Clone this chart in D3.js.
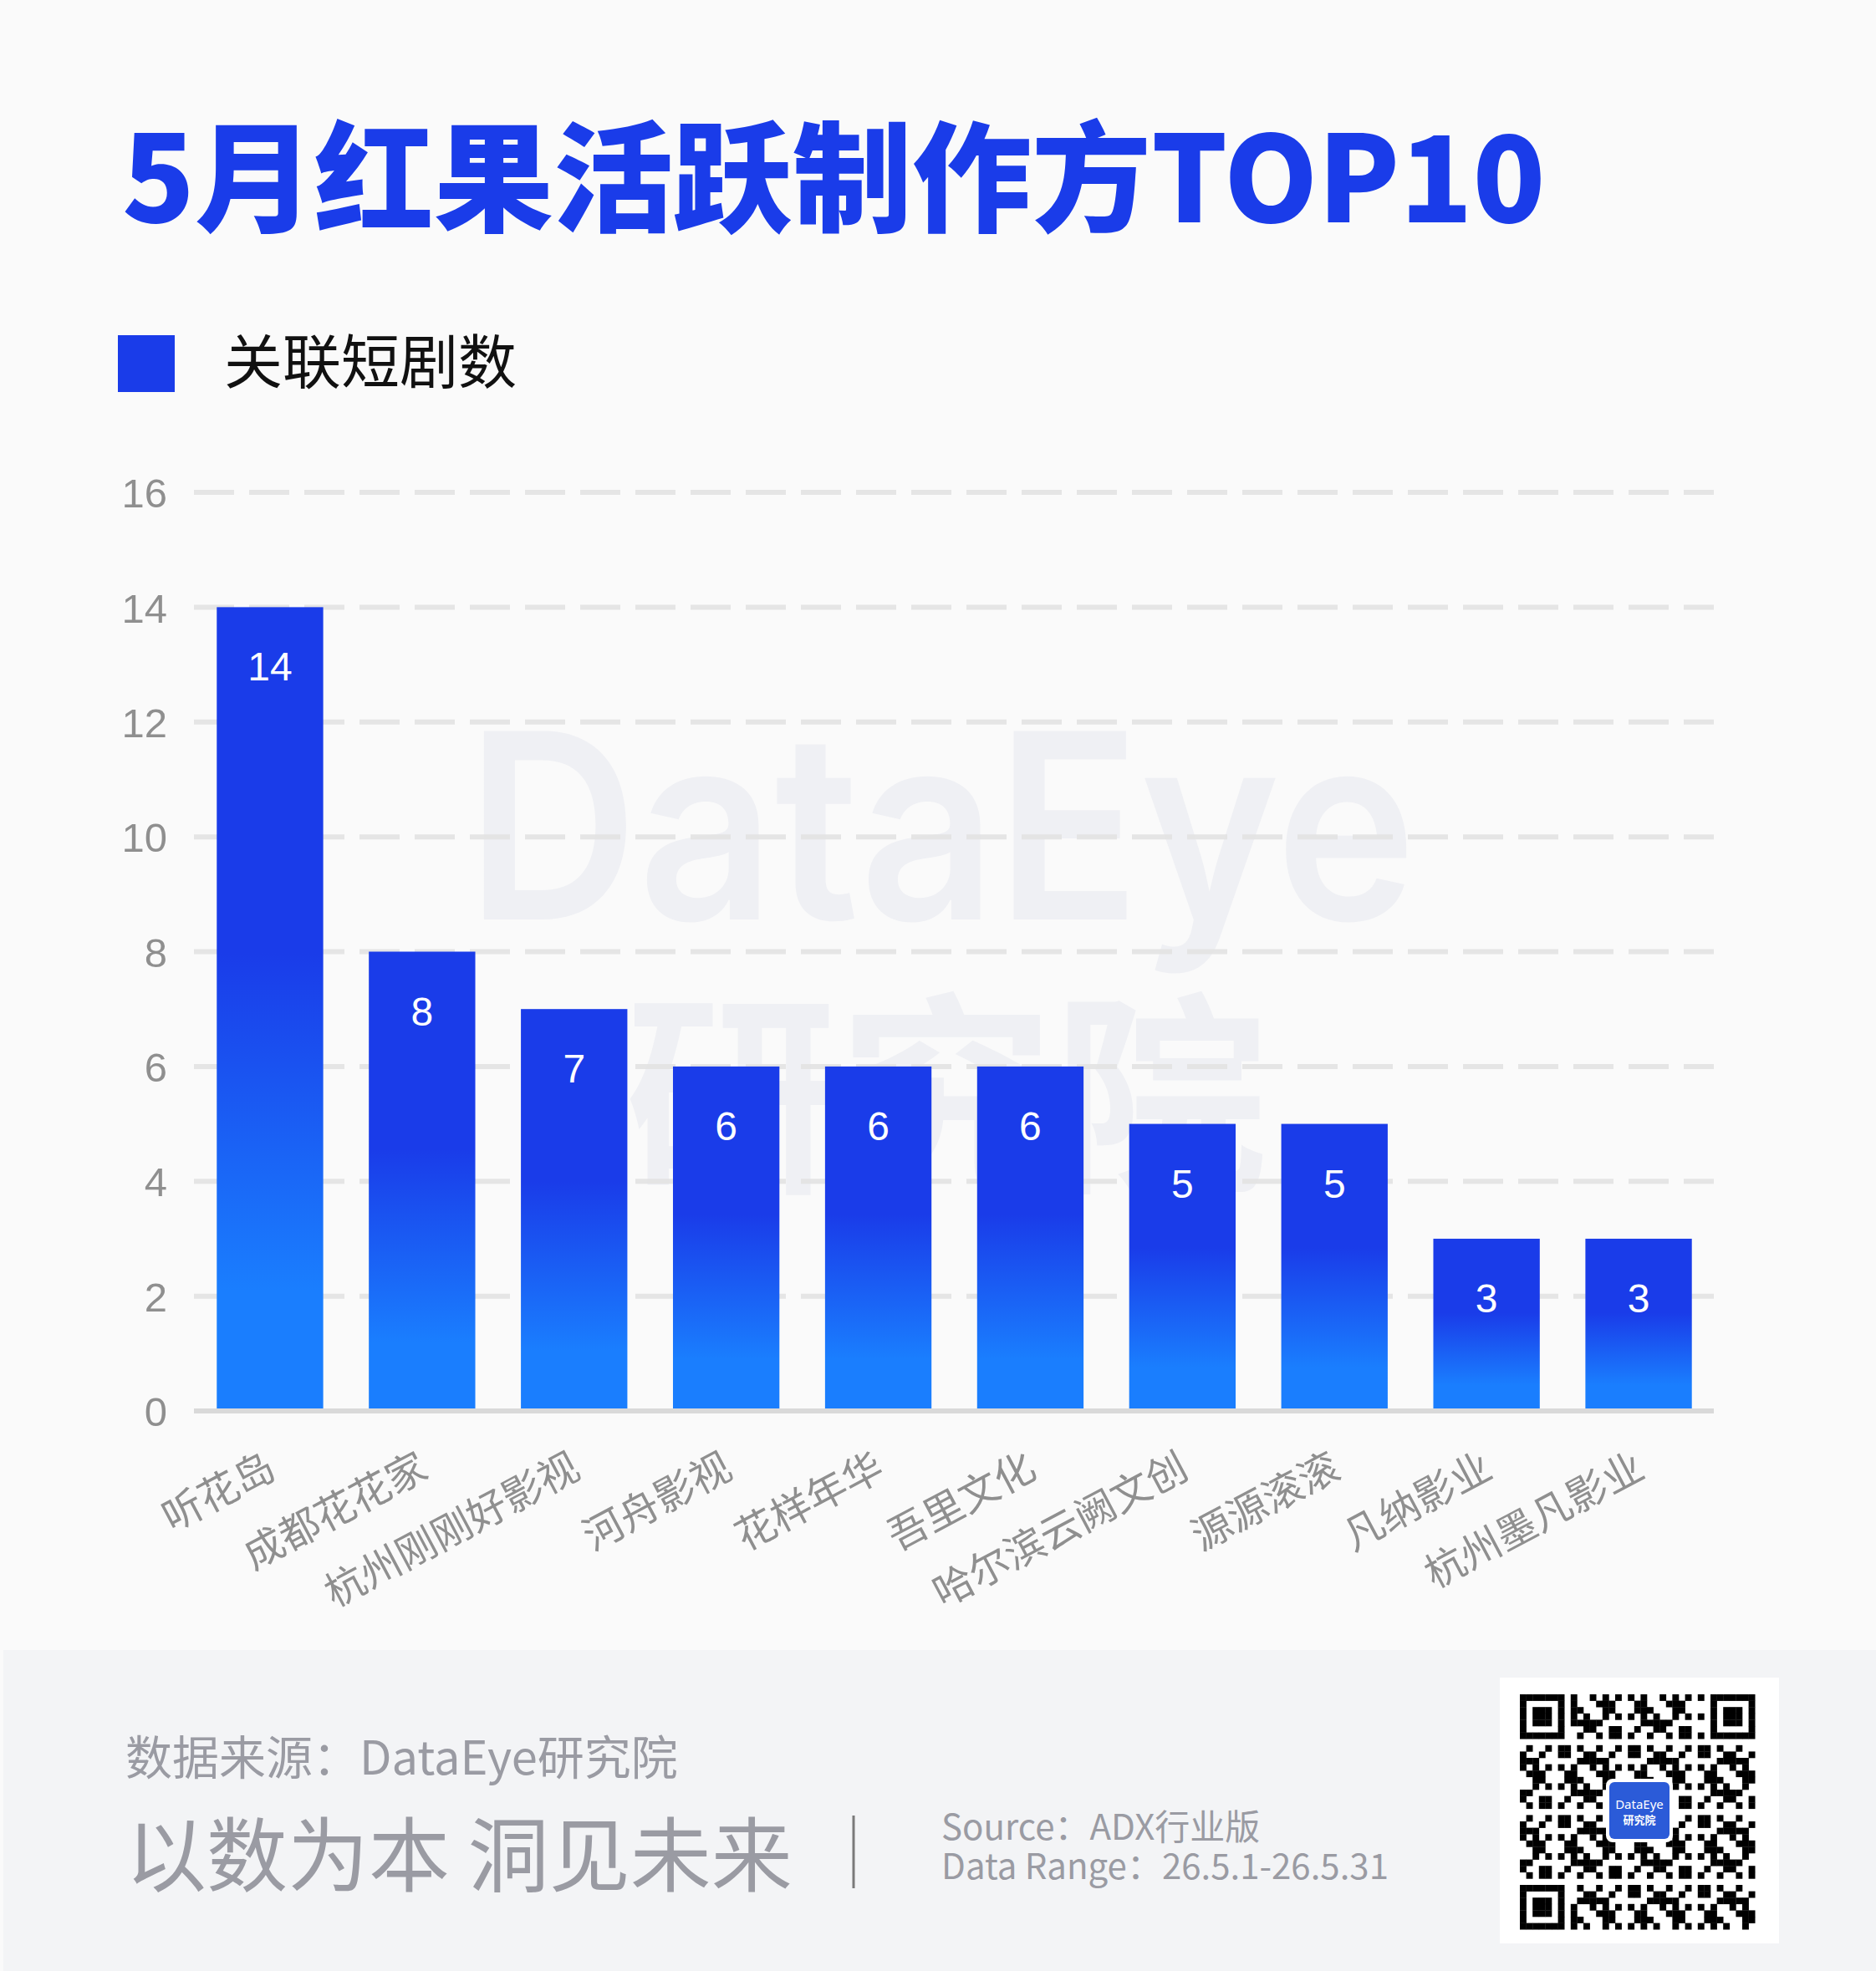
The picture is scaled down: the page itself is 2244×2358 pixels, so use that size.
<!DOCTYPE html>
<html>
<head>
<meta charset="utf-8">
<script src="https://cdn.jsdelivr.net/npm/d3@7"></script>
<style>
  body { margin: 0; background: #fafafa; }
  svg { display: block; }
  text { font-family: "Noto Sans CJK SC", "Noto Sans", sans-serif; }
</style>
</head>
<body>
<div id="app"></div>
<script>
const WIDTH = 2244
const HEIGHT = 2358

// data
const producers = ['听花岛', '成都花花家', '杭州刚刚好影视', '河舟影视', '花样年华',
  '吾里文化', '哈尔滨云阙文创', '源源滚滚', '凡纳影业', '杭州墨凡影业']
const dramaCounts = [14, 8, 7, 6, 6, 6, 5, 5, 3, 3]
const yTicks = [0, 2, 4, 6, 8, 10, 12, 14, 16]

const TITLE = '5月红果活跃制作方TOP10'
const SERIES = '关联短剧数'

const BLUE = '#1a3ce9'
const LIGHT_BLUE = '#1a7efe'
const GRAY = '#8f8f8f'

const svg = d3.select('#app').append('svg')
  .attr('width', WIDTH)
  .attr('height', HEIGHT)

const defs = svg.append('defs')
const grad = defs.append('linearGradient')
  .attr('id', 'barFill')
  .attr('x1', 0).attr('y1', 0).attr('x2', 0).attr('y2', 1)
grad.append('stop').attr('offset', '0%').attr('stop-color', BLUE)
grad.append('stop').attr('offset', '43%').attr('stop-color', BLUE)
grad.append('stop').attr('offset', '85%').attr('stop-color', LIGHT_BLUE)
grad.append('stop').attr('offset', '100%').attr('stop-color', LIGHT_BLUE)

svg.append('rect')
  .attr('width', WIDTH).attr('height', HEIGHT)
  .attr('fill', '#fafafa')

// title + legend
svg.append('text')
  .attr('x', 146).attr('y', 266)
  .attr('fill', BLUE)
  .style('font-size', '143px')
  .style('font-weight', 900)
  .text(TITLE)

svg.append('rect')
  .attr('x', 141).attr('y', 401)
  .attr('width', 68).attr('height', 68)
  .attr('fill', BLUE)

svg.append('text')
  .attr('x', 268).attr('y', 459)
  .attr('fill', '#111')
  .style('font-size', '70px')
  .text(SERIES)

// watermark
const wm = svg.append('g').attr('fill', '#eff0f4')
wm.append('text')
  .attr('x', 558).attr('y', 1100)
  .attr('textLength', 1136)
  .attr('lengthAdjust', 'spacingAndGlyphs')
  .style('font-family', 'Inter, "Noto Sans", sans-serif')
  .style('font-size', '310px')
  .style('font-weight', 600)
  .text('DataEye')
wm.append('text')
  .attr('x', 1132).attr('y', 1406)
  .attr('text-anchor', 'middle')
  .style('font-size', '256px')
  .style('font-weight', 700)
  .text('研究院')

// scales
const x = d3.scaleBand()
  .domain(producers)
  .range([232, 2051])
  .paddingInner(0.3)
  .paddingOuter(0.15)

const y = d3.scaleLinear()
  .domain([0, 16])
  .range([1688, 589])

// grid lines
svg.append('g')
  .selectAll('line')
  .data(yTicks.filter(d => d > 0))
  .join('line')
  .attr('x1', 232).attr('x2', 2050)
  .attr('y1', d => y(d)).attr('y2', d => y(d))
  .attr('stroke', '#e2e2e2')
  .attr('stroke-opacity', 0.9)
  .attr('stroke-width', 6)
  .attr('stroke-dasharray', '48 18')

// y axis labels
const yAxis = svg.append('g')
  .attr('transform', 'translate(200,0)')
  .call(d3.axisLeft(y).tickValues(yTicks).tickSize(0).tickPadding(0))
yAxis.select('.domain').remove()
yAxis.selectAll('text')
  .attr('fill', GRAY)
  .attr('dy', '0.36em')
  .style('font-family', '"Liberation Sans", Arial, sans-serif')
  .style('font-size', '49px')

// bars
const bars = svg.append('g')
  .selectAll('g')
  .data(producers.map((p, i) => ({ name: p, value: dramaCounts[i] })))
  .join('g')

bars.append('rect')
  .attr('x', d => x(d.name))
  .attr('y', d => y(d.value))
  .attr('width', x.bandwidth())
  .attr('height', d => y(0) - y(d.value))
  .attr('fill', 'url(#barFill)')

bars.append('text')
  .attr('x', d => x(d.name) + x.bandwidth() / 2)
  .attr('y', d => y(d.value) + 88)
  .attr('text-anchor', 'middle')
  .attr('fill', '#fff')
  .style('font-family', '"Liberation Sans", Arial, sans-serif')
  .style('font-size', '48px')
  .text(d => d.value)

// baseline
svg.append('line')
  .attr('x1', 232).attr('x2', 2050)
  .attr('y1', y(0)).attr('y2', y(0))
  .attr('stroke', '#d9d9d9')
  .attr('stroke-width', 6)

// x labels, rotated
svg.append('g')
  .selectAll('text')
  .data(producers)
  .join('text')
  .attr('transform', d => `translate(${x(d) + x.bandwidth() / 2 + 10},1766) rotate(-28)`)
  .attr('text-anchor', 'end')
  .attr('fill', GRAY)
  .style('font-size', '48px')
  .text(d => d)

// footer
svg.append('rect')
  .attr('x', 4).attr('y', 1974)
  .attr('width', WIDTH - 4).attr('height', HEIGHT - 1974)
  .attr('fill', '#f3f4f6')

const FOOT = '#9a9ba3'
svg.append('text')
  .attr('x', 150).attr('y', 2123)
  .attr('fill', FOOT)
  .style('font-size', '56px')
  .text('数据来源：DataEye研究院')

svg.append('text')
  .attr('x', 150).attr('y', 2255)
  .attr('fill', FOOT)
  .style('font-size', '97px')
  .text('以数为本 洞见未来')

svg.append('line')
  .attr('x1', 1021).attr('x2', 1021)
  .attr('y1', 2172).attr('y2', 2259)
  .attr('stroke', '#7a7a7a')
  .attr('stroke-width', 3)

svg.append('text')
  .attr('x', 1126).attr('y', 2201)
  .attr('fill', FOOT)
  .style('font-size', '42px')
  .text('Source：ADX行业版')

svg.append('text')
  .attr('x', 1126).attr('y', 2248)
  .attr('fill', FOOT)
  .style('font-size', '42px')
  .text('Data Range：26.5.1-26.5.31')

// qr code (decorative)
svg.append('rect')
  .attr('x', 1794).attr('y', 2007)
  .attr('width', 334).attr('height', 318)
  .attr('fill', '#fff')

const N = 37, M = 7.6, QX = 1818, QY = 2027
const cells = []
const finder = (i, j, oi, oj) => {
  const a = i - oi, b = j - oj
  if (a < 0 || b < 0 || a > 6 || b > 6) return null
  const ring = Math.max(Math.abs(a - 3), Math.abs(b - 3))
  return ring === 3 || ring <= 1
}
for (let i = 0; i < N; i++) {
  for (let j = 0; j < N; j++) {
    let on = finder(i, j, 0, 0)
    if (on === null) on = finder(i, j, 0, N - 7)
    if (on === null) on = finder(i, j, N - 7, 0)
    if (on === null) {
      if ((i < 8 && j < 8) || (i < 8 && j > N - 9) || (i > N - 9 && j < 8)) on = false
      else on = ((i * 31 + j * 17 + i * j * 7) % 11) < 5
    }
    if (on) cells.push([i, j])
  }
}
svg.append('g')
  .selectAll('rect')
  .data(cells)
  .join('rect')
  .attr('x', d => QX + d[1] * M)
  .attr('y', d => QY + d[0] * M)
  .attr('width', M + 0.3).attr('height', M + 0.3)
  .attr('fill', '#000')

svg.append('rect')
  .attr('x', 1921).attr('y', 2128)
  .attr('width', 80).attr('height', 76)
  .attr('rx', 8)
  .attr('fill', '#fff')
svg.append('rect')
  .attr('x', 1925).attr('y', 2132)
  .attr('width', 72).attr('height', 68)
  .attr('rx', 6)
  .attr('fill', '#2b5bd8')
svg.append('text')
  .attr('x', 1961).attr('y', 2164)
  .attr('text-anchor', 'middle')
  .attr('fill', '#fff')
  .style('font-family', '"Noto Sans", sans-serif')
  .style('font-size', '15px')
  .text('DataEye')
svg.append('text')
  .attr('x', 1961).attr('y', 2182)
  .attr('text-anchor', 'middle')
  .attr('fill', '#fff')
  .style('font-size', '13px')
  .style('font-weight', 700)
  .text('研究院')
</script>
</body>
</html>
